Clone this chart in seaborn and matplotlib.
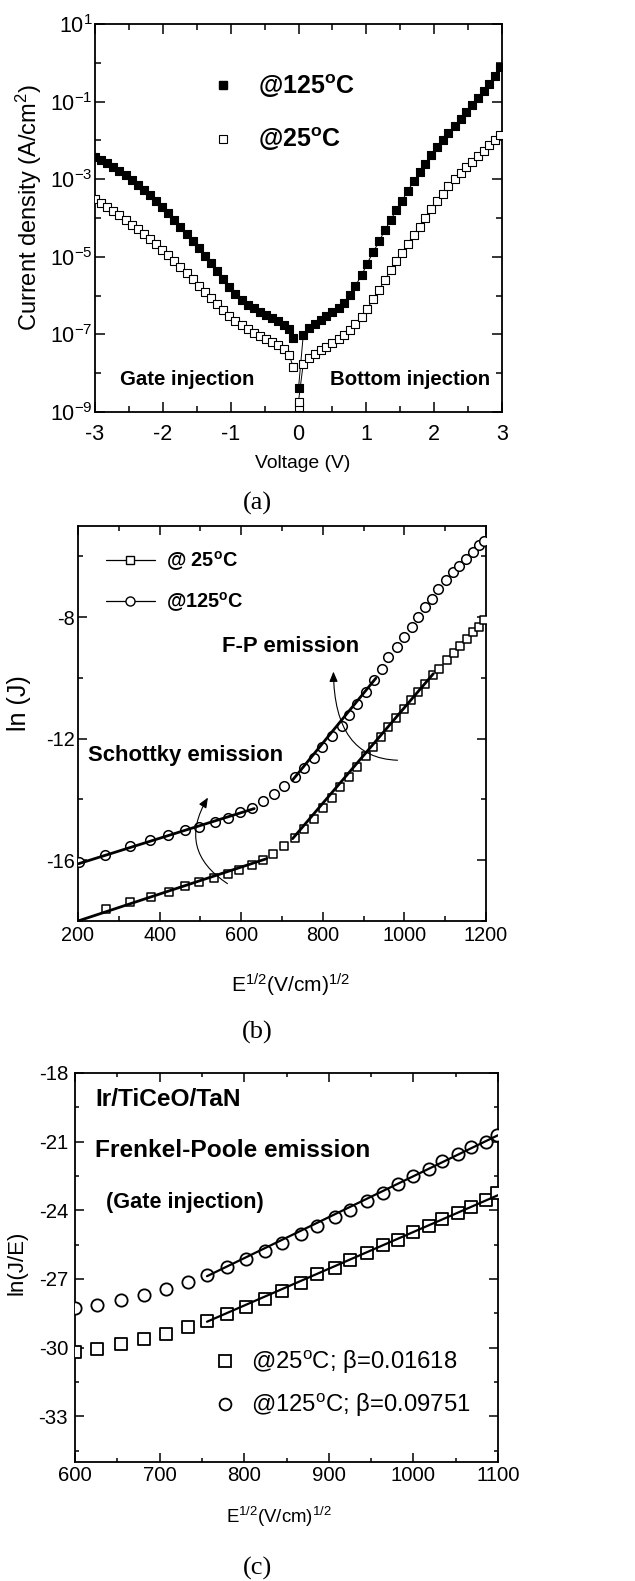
import numpy as np
import pandas as pd
import matplotlib
matplotlib.use("Agg")
import matplotlib.pyplot as plt
import seaborn as sns
from matplotlib import font_manager
from matplotlib.lines import Line2D
from matplotlib.patches import FancyArrowPatch
from matplotlib.ticker import FixedLocator, NullFormatter, MultipleLocator

# ---------------- Panel (a): J-V, log10 of current density (A/cm^2) ----------------
V_neg = [-3.00, -2.91, -2.82, -2.73, -2.64, -2.55, -2.46, -2.37, -2.28, -2.19, -2.10, -2.01,
         -1.92, -1.83, -1.74, -1.65, -1.56, -1.47, -1.38, -1.29, -1.20, -1.11, -1.02, -0.93,
         -0.84, -0.75, -0.66, -0.57, -0.48, -0.39, -0.30, -0.21, -0.14, -0.08]
logJ125_neg = [-2.42, -2.50, -2.59, -2.69, -2.79, -2.90, -3.02, -3.14, -3.27, -3.41, -3.56, -3.72,
               -3.88, -4.05, -4.22, -4.40, -4.58, -4.77, -4.97, -5.17, -5.37, -5.57, -5.78, -5.97,
               -6.11, -6.23, -6.33, -6.42, -6.50, -6.58, -6.66, -6.75, -6.86, -7.08]
logJ25_neg = [-3.52, -3.62, -3.72, -3.82, -3.93, -4.05, -4.17, -4.29, -4.42, -4.55, -4.68, -4.82,
              -4.96, -5.11, -5.26, -5.42, -5.58, -5.74, -5.90, -6.06, -6.22, -6.38, -6.53, -6.66,
              -6.77, -6.87, -6.96, -7.04, -7.12, -7.20, -7.28, -7.38, -7.52, -7.83]
V_zero125 = [0.0]
logJ125_zero = [-8.39]
V_zero25 = [0.0, 0.0]
logJ25_zero = [-8.87, -8.73]
V_pos = [0.07, 0.16, 0.24, 0.33, 0.41, 0.50, 0.59, 0.67, 0.76, 0.84, 0.93, 1.01, 1.10, 1.19,
         1.27, 1.36, 1.44, 1.53, 1.61, 1.70, 1.79, 1.87, 1.96, 2.04, 2.13, 2.21, 2.30, 2.39,
         2.47, 2.56, 2.64, 2.73, 2.81, 2.90, 2.97]
logJ125_pos = [-7.02, -6.84, -6.72, -6.62, -6.53, -6.43, -6.32, -6.18, -5.98, -5.74, -5.48, -5.18,
               -4.88, -4.60, -4.32, -4.05, -3.80, -3.55, -3.30, -3.05, -2.82, -2.60, -2.38, -2.18,
               -1.98, -1.80, -1.62, -1.44, -1.26, -1.08, -0.90, -0.72, -0.54, -0.34, -0.10]
logJ25_pos = [-7.75, -7.60, -7.50, -7.41, -7.32, -7.23, -7.13, -7.02, -6.89, -6.73, -6.55, -6.34,
              -6.10, -5.85, -5.60, -5.35, -5.12, -4.89, -4.66, -4.44, -4.22, -4.00, -3.78, -3.57,
              -3.37, -3.18, -3.00, -2.84, -2.69, -2.55, -2.41, -2.27, -2.13, -1.99, -1.86]
a_xticks = [-3, -2, -1, 0, 1, 2, 3]
a_yticks = [1e-9, 1e-7, 1e-5, 1e-3, 1e-1, 1e1]
a_yminor = [1e-8, 1e-6, 1e-4, 1e-2, 1e0]

# ---------------- Panel (b): ln(J) vs E^1/2 ----------------
xb25 = [268, 327, 378, 423, 462, 497, 534, 567, 595, 626, 654, 679, 706, 732, 754, 779, 800, 823,
        842, 863, 885, 905, 923, 942, 961, 980, 998, 1016, 1034, 1051, 1069, 1086, 1104, 1121,
        1137, 1153, 1168, 1184, 1194]
yb25 = [-17.59, -17.37, -17.21, -17.04, -16.85, -16.71, -16.58, -16.44, -16.31, -16.16, -15.98,
        -15.78, -15.54, -15.27, -14.96, -14.63, -14.27, -13.94, -13.59, -13.26, -12.93, -12.58,
        -12.27, -11.95, -11.62, -11.31, -11.01, -10.74, -10.47, -10.19, -9.92, -9.70, -9.42,
        -9.18, -8.96, -8.71, -8.49, -8.33, -8.09]
xb125 = [202, 265, 327, 376, 421, 462, 497, 536, 567, 597, 627, 654, 680, 706, 732, 754, 779, 799,
         823, 846, 865, 885, 905, 926, 945, 961, 981, 1000, 1018, 1034, 1051, 1067, 1083, 1101,
         1120, 1135, 1151, 1168, 1184, 1196]
yb125 = [-16.05, -15.84, -15.54, -15.32, -15.18, -14.99, -14.90, -14.74, -14.60, -14.41, -14.27,
         -14.06, -13.83, -13.57, -13.26, -12.95, -12.62, -12.27, -11.92, -11.59, -11.23, -10.85,
         -10.47, -10.08, -9.70, -9.32, -8.99, -8.66, -8.31, -8.00, -7.67, -7.40, -7.07, -6.79,
         -6.52, -6.30, -6.08, -5.86, -5.64, -5.48]
sch125_x, sch125_y = [200, 632], [-16.12, -14.30]
sch25_x, sch25_y = [200, 662], [-18.00, -15.95]
fp125_x, fp125_y = [726, 930], [-13.36, -10.01]
fp25_x, fp25_y = [726, 1071], [-15.29, -9.86]
sch_arrow = [(572, -16.82), (522, -13.86)]
fp_arrow = [(990, -12.71), (826, -9.70)]

# ---------------- Panel (c): ln(J/E) vs E^1/2 ----------------
xc = [600, 626, 654, 681, 707, 733, 756, 780, 802, 824, 845, 867, 886, 907, 925, 945, 964, 982,
      1000, 1018, 1034, 1053, 1068, 1086, 1099]
yc125 = [-28.29, -28.15, -27.90, -27.71, -27.42, -27.13, -26.84, -26.47, -26.14, -25.79, -25.45,
         -25.05, -24.68, -24.29, -23.97, -23.59, -23.23, -22.86, -22.51, -22.18, -21.86, -21.52,
         -21.23, -21.02, -20.72]
yc25 = [-30.18, -30.04, -29.85, -29.64, -29.41, -29.12, -28.84, -28.55, -28.22, -27.88, -27.53,
        -27.17, -26.79, -26.52, -26.18, -25.85, -25.53, -25.28, -24.94, -24.68, -24.40, -24.14,
        -23.85, -23.56, -23.23]
fpc125_x, fpc125_y = [756, 1100], [-26.88, -20.72]
fpc25_x, fpc25_y = [756, 1100], [-28.87, -23.34]

# ---------------- style ----------------
sns.set_theme(style="ticks", rc={"text.color": "black", "axes.labelcolor": "black",
                                 "xtick.color": "black", "ytick.color": "black",
                                 "axes.edgecolor": "black", "axes.facecolor": "white"})
names = {f.name for f in font_manager.fontManager.ttflist}
NARROW_OK = "Liberation Sans Narrow" in names
NARROW = "Liberation Sans Narrow" if NARROW_OK else "Liberation Sans"
REG = "Liberation Sans"
SERIF = "Liberation Serif"
def ns(s):
    return s if NARROW_OK else s * 0.84
plt.rcParams["font.family"] = [NARROW, "DejaVu Sans"]
plt.rcParams["mathtext.fontset"] = "custom"
plt.rcParams["mathtext.rm"] = NARROW
plt.rcParams["mathtext.it"] = NARROW + ":italic"
plt.rcParams["mathtext.bf"] = NARROW + ":bold"
plt.rcParams["axes.unicode_minus"] = False

W, H = 635, 1581
fig = plt.figure(figsize=(W / 100, H / 100), dpi=100)

def box(l, r, t, b):
    return [l / W, 1 - b / H, (r - l) / W, (b - t) / H]

def style(ax, font, size, padx, pady, maj, mino):
    for s in ax.spines.values():
        s.set_visible(True)
        s.set_linewidth(1.3)
        s.set_color("black")
    ax.tick_params(which="both", direction="in", top=True, right=True, width=1.1,
                   colors="black")
    ax.tick_params(which="major", length=maj)
    ax.tick_params(which="minor", length=mino)
    ax.tick_params(axis="x", which="major", pad=padx)
    ax.tick_params(axis="y", which="major", pad=pady)
    for lab in ax.get_xticklabels() + ax.get_yticklabels():
        lab.set_fontfamily(font)
        lab.set_fontsize(size)
    ax.grid(False)

def J(arr):
    return 10.0 ** np.asarray(arr)

# ---------------- Panel (a) ----------------
axA = fig.add_axes(box(95, 502, 24, 412))
sns.lineplot(x=V_neg, y=J(logJ25_neg), ax=axA, color="black", linewidth=0.7, sort=False,
             estimator=None, legend=False)
sns.lineplot(x=V_neg, y=J(logJ125_neg), ax=axA, color="black", linewidth=0.7, sort=False,
             estimator=None, legend=False)
sns.lineplot(x=V_zero25 + V_pos, y=J(logJ25_zero + logJ25_pos), ax=axA, color="black",
             linewidth=0.7, sort=False, estimator=None, legend=False)
sns.lineplot(x=V_zero125 + V_pos, y=J(logJ125_zero + logJ125_pos), ax=axA, color="black",
             linewidth=0.7, sort=False, estimator=None, legend=False)
sns.scatterplot(x=V_neg + V_zero25 + V_pos, y=J(logJ25_neg + logJ25_zero + logJ25_pos), ax=axA,
                marker="s", s=28, color="white", edgecolor="black", linewidth=0.8, zorder=3,
                legend=False)
sns.scatterplot(x=V_neg + V_zero125 + V_pos, y=J(logJ125_neg + logJ125_zero + logJ125_pos),
                ax=axA, marker="s", s=30, color="black", edgecolor="black", linewidth=0.8,
                zorder=3, legend=False)
axA.set_yscale("log")
axA.set_xlim(-3, 3)
axA.set_ylim(1e-9, 1e1)
axA.xaxis.set_major_locator(FixedLocator(a_xticks))
axA.xaxis.set_minor_locator(MultipleLocator(0.5))
axA.yaxis.set_major_locator(FixedLocator(a_yticks))
axA.yaxis.set_minor_locator(FixedLocator(a_yminor))
axA.yaxis.set_minor_formatter(NullFormatter())
axA.set_xlabel("Voltage (V)", fontsize=ns(16.5), fontfamily=NARROW)
axA.set_ylabel("Current density (A/cm$^\\mathregular{2}$)", fontsize=17, fontfamily=REG)
axA.xaxis.set_label_coords(0.511, -0.134)
axA.xaxis.label.set_va("center")
axA.yaxis.set_label_coords(-0.162, 0.526)
axA.yaxis.label.set_va("center")
style(axA, REG, 15.5, 8.5, 1.5, 7.5, 4)
hA = [Line2D([], [], ls="none", marker="s", ms=5.8, mfc="black", mec="black"),
      Line2D([], [], ls="none", marker="s", ms=5.3, mfc="white", mec="black", mew=0.8)]
axA.legend(hA, ["@125$^\\mathregular{o}$C", "@25$^\\mathregular{o}$C"], loc="center left",
           bbox_to_anchor=(0.284, 0.771), frameon=False, borderpad=0, borderaxespad=0,
           handlelength=1.0, handletextpad=0.9, labelspacing=1.03,
           prop={"family": REG, "weight": "bold", "size": 18})
axA.text(0.061, 0.0825, "Gate injection", transform=axA.transAxes, ha="left", va="center",
         fontsize=ns(17.5), fontweight="bold", fontfamily=NARROW)
axA.text(0.577, 0.0825, "Bottom injection", transform=axA.transAxes, ha="left", va="center",
         fontsize=ns(17.5), fontweight="bold", fontfamily=NARROW)

# ---------------- Panel (b) ----------------
axB = fig.add_axes(box(78, 486, 526, 921))
for xs, ys in [(sch125_x, sch125_y), (sch25_x, sch25_y), (fp125_x, fp125_y), (fp25_x, fp25_y)]:
    sns.lineplot(x=xs, y=ys, ax=axB, color="black", linewidth=2.0, sort=False, estimator=None,
                 legend=False, zorder=4)
sns.scatterplot(x=xb25, y=yb25, ax=axB, marker="s", s=40, color="white", edgecolor="black",
                linewidth=1.1, zorder=3, legend=False)
sns.scatterplot(x=xb125, y=yb125, ax=axB, marker="o", s=48, color="white", edgecolor="black",
                linewidth=1.1, zorder=3, legend=False)
axB.set_xlim(200, 1200)
axB.set_ylim(-18, -5)
axB.xaxis.set_major_locator(MultipleLocator(200))
axB.xaxis.set_minor_locator(MultipleLocator(100))
axB.yaxis.set_major_locator(MultipleLocator(4))
axB.yaxis.set_minor_locator(MultipleLocator(2))
axB.set_xlabel("E$^\\mathregular{1/2}$(V/cm)$^\\mathregular{1/2}$", fontsize=ns(18),
               fontfamily=NARROW)
axB.set_ylabel("ln (J)", fontsize=18, fontfamily=REG)
axB.xaxis.set_label_coords(0.52, -0.162)
axB.xaxis.label.set_va("center")
axB.yaxis.set_label_coords(-0.145, 0.552)
axB.yaxis.label.set_va("center")
style(axB, NARROW, ns(17), 3.5, 2, 6.5, 3.6)
for (tail, head, cs) in [(sch_arrow[0], sch_arrow[1], "arc3,rad=-0.5"),
                         (fp_arrow[0], fp_arrow[1], "angle3,angleA=0,angleB=90")]:
    axB.add_patch(FancyArrowPatch(posA=tail, posB=head, connectionstyle=cs,
                                  arrowstyle="-|>,head_length=0.6,head_width=0.25",
                                  mutation_scale=10, lw=0.8, color="black", zorder=5))
hB = [Line2D([], [], color="black", lw=0.9, marker="s", ms=6, mfc="white", mec="black", mew=1.0),
      Line2D([], [], color="black", lw=0.9, marker="o", ms=6.5, mfc="white", mec="black", mew=1.0)]
axB.legend(hB, ["@ 25$^\\mathregular{o}$C", "@125$^\\mathregular{o}$C"], loc="center left",
           bbox_to_anchor=(0.0686, 0.859), frameon=False, borderpad=0, borderaxespad=0,
           handlelength=2.45, handletextpad=0.6, labelspacing=0.9,
           prop={"family": NARROW, "weight": "bold", "size": ns(17)})
axB.text(0.353, 0.694, "F-P emission", transform=axB.transAxes, ha="left", va="center",
         fontsize=ns(19), fontweight="bold", fontfamily=NARROW)
axB.text(0.0245, 0.420, "Schottky emission", transform=axB.transAxes, ha="left", va="center",
         fontsize=ns(19), fontweight="bold", fontfamily=NARROW)

# ---------------- Panel (c) ----------------
axC = fig.add_axes(box(75, 498, 1073, 1462))
for xs, ys in [(fpc125_x, fpc125_y), (fpc25_x, fpc25_y)]:
    sns.lineplot(x=xs, y=ys, ax=axC, color="black", linewidth=1.6, sort=False, estimator=None,
                 legend=False, zorder=4)
sns.scatterplot(x=xc, y=yc25, ax=axC, marker="s", s=64, color="white", edgecolor="black",
                linewidth=1.3, zorder=3, legend=False)
sns.scatterplot(x=xc, y=yc125, ax=axC, marker="o", s=78, color="white", edgecolor="black",
                linewidth=1.3, zorder=3, legend=False)
axC.set_xlim(600, 1100)
axC.set_ylim(-35, -18)
axC.xaxis.set_major_locator(MultipleLocator(100))
axC.xaxis.set_minor_locator(MultipleLocator(50))
axC.yaxis.set_major_locator(MultipleLocator(3))
axC.yaxis.set_minor_locator(MultipleLocator(1.5))
axC.set_xlabel("E$^\\mathregular{1/2}$(V/cm)$^\\mathregular{1/2}$", fontsize=ns(16),
               fontfamily=NARROW)
axC.set_ylabel("ln(J/E)", fontsize=16, fontfamily=REG)
axC.xaxis.set_label_coords(0.482, -0.141)
axC.xaxis.label.set_va("center")
axC.yaxis.set_label_coords(-0.137, 0.512)
axC.yaxis.label.set_va("center")
style(axC, NARROW, ns(17.5), 3, 5, 6.5, 3)
hC = [Line2D([], [], ls="none", marker="s", ms=8, mfc="white", mec="black", mew=1.3),
      Line2D([], [], ls="none", marker="o", ms=8.5, mfc="white", mec="black", mew=1.3)]
axC.legend(hC, ["@25$^\\mathregular{o}$C; \u03b2=0.01618", "@125$^\\mathregular{o}$C; \u03b2=0.09751"],
           loc="center left", bbox_to_anchor=(0.326, 0.2005), frameon=False, borderpad=0,
           borderaxespad=0, handlelength=1.0, handletextpad=0.58, labelspacing=0.65,
           prop={"family": NARROW, "size": ns(20.5)})
axC.text(0.047, 0.931, "Ir/TiCeO/TaN", transform=axC.transAxes, ha="left", va="center",
         fontsize=ns(21), fontweight="bold", fontfamily=NARROW)
axC.text(0.047, 0.802, "Frenkel-Poole emission", transform=axC.transAxes, ha="left", va="center",
         fontsize=ns(21), fontweight="bold", fontfamily=NARROW)
axC.text(0.073, 0.668, "(Gate injection)", transform=axC.transAxes, ha="left", va="center",
         fontsize=ns(18.5), fontweight="bold", fontfamily=NARROW)

# ---------------- captions ----------------
for lab, yy in [("(a)", 503), ("(b)", 1032), ("(c)", 1568)]:
    fig.text(257 / W, 1 - yy / H, lab, ha="center", va="center", fontsize=19, fontfamily=SERIF)

fig.savefig("out.png", dpi=100)
